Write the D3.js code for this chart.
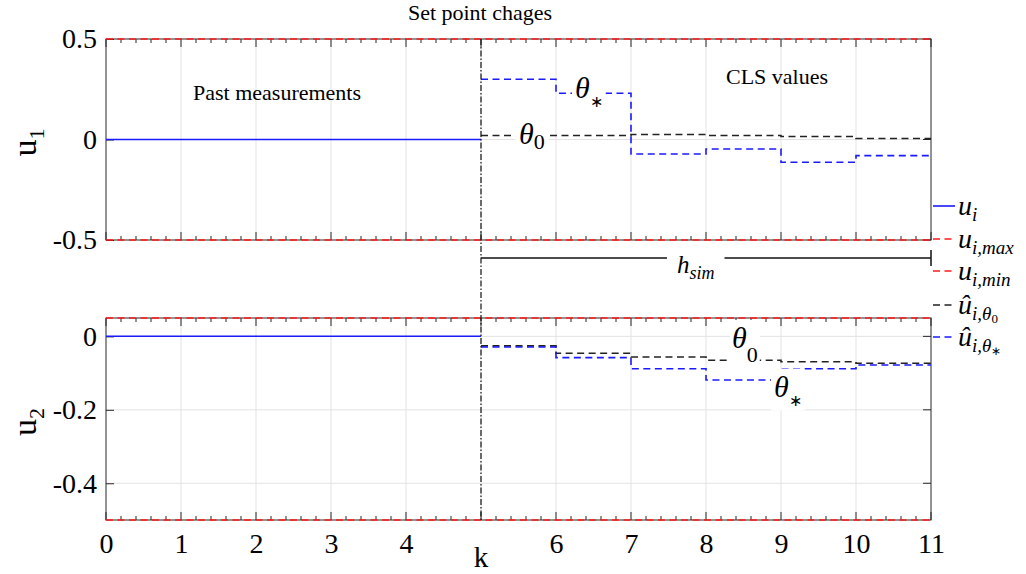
<!DOCTYPE html>
<html>
<head>
<meta charset="utf-8">
<script src="https://cdn.jsdelivr.net/npm/d3@7"></script>
<style>
  body { margin: 0; background: #fff; }
  svg { display: block; }
  text { font-family: "Liberation Serif", "Times New Roman", serif; fill: #000; }
</style>
</head>
<body>
<div id="chart"></div>
<script>
// time steps and tick labels (k = 5 is the current step)
const kTicks = [0, 1, 2, 3, 4, 5, 6, 7, 8, 9, 10, 11]
const kTickLabels = ['0', '1', '2', '3', '4', '', '6', '7', '8', '9', '10', '11']
const kPast = [0, 1, 2, 3, 4, 5]
const kHorizon = [5, 6, 7, 8, 9, 10, 11]

// past measurements
const u1Past = [0, 0, 0, 0, 0, 0]
const u2Past = [0, 0, 0, 0, 0, 0]

// CLS values over the horizon (one value per step)
const u1Theta0 = [0.02, 0.02, 0.025, 0.02, 0.015, 0.005]
const u1ThetaStar = [0.3, 0.23, -0.072, -0.047, -0.113, -0.08]
const u2Theta0 = [-0.026, -0.046, -0.056, -0.065, -0.069, -0.073]
const u2ThetaStar = [-0.029, -0.058, -0.088, -0.119, -0.088, -0.078]

// limits and y ticks
const u1Limits = [-0.5, 0.5]
const u2Limits = [-0.5, 0.05]
const u1Ticks = [-0.5, 0, 0.5]
const u1TickLabels = ['-0.5', '0', '0.5']
const u2Ticks = [-0.4, -0.2, 0]
const u2TickLabels = ['-0.4', '-0.2', '0']

const W = 1026, H = 574
const BLUE = '#1a1aff', RED = '#ff1a1a', DARK = '#262626', GRID = '#e3e3e3'
const DASH = '7,4.5'

const svg = d3.select('#chart').append('svg')
  .attr('width', W).attr('height', H)
svg.append('rect').attr('width', W).attr('height', H).attr('fill', '#fff')

const x = d3.scaleLinear().domain([0, 11]).range([106, 931])

// draws text made of pieces (for sub/superscripts)
function mathText(g, px, py, parts, anchor) {
  const t = g.append('text').attr('x', px).attr('y', py)
    .attr('text-anchor', anchor || 'start')
  parts.forEach(p => {
    t.append('tspan')
      .attr('dy', p.dy || 0)
      .style('font-size', p.size + 'px')
      .style('font-style', p.italic ? 'italic' : 'normal')
      .text(p.t)
  })
  return t
}

function withBackground(g, t, pad) {
  const b = t.node().getBBox()
  g.insert('rect', () => t.node())
    .attr('x', b.x - pad).attr('y', b.y - pad / 2)
    .attr('width', b.width + 2 * pad).attr('height', b.height + pad)
    .attr('fill', '#fff')
}

function stairs(vals) {
  return kHorizon.map((k, i) => [k, vals[Math.min(i, vals.length - 1)]])
}

function drawPanel(cfg) {
  const y = d3.scaleLinear().domain(cfg.limits).range([cfg.bottom, cfg.top])
  const g = svg.append('g')
  const x0 = x.range()[0], x1 = x.range()[1]

  // grid
  g.append('g').selectAll('line').data(kTicks.slice(1, -1)).join('line')
    .attr('x1', d => x(d)).attr('x2', d => x(d))
    .attr('y1', cfg.top).attr('y2', cfg.bottom)
    .attr('stroke', GRID).attr('stroke-width', 1)
  g.append('g').selectAll('line').data(cfg.ticks.filter(d => d > cfg.limits[0] && d < cfg.limits[1])).join('line')
    .attr('x1', x0).attr('x2', x1)
    .attr('y1', d => y(d)).attr('y2', d => y(d))
    .attr('stroke', GRID).attr('stroke-width', 1)

  // x ticks (major + minor) on top and bottom edges
  const minor = d3.range(0, 55).map(i => i / 5).filter(d => Math.abs(d - Math.round(d)) > 1e-6)
  ;[cfg.top, cfg.bottom].forEach((edge, j) => {
    const dir = j === 0 ? 1 : -1
    g.append('g').selectAll('line').data(kTicks).join('line')
      .attr('x1', d => x(d)).attr('x2', d => x(d))
      .attr('y1', edge).attr('y2', edge + dir * 8)
      .attr('stroke', DARK).attr('stroke-width', 1)
    g.append('g').selectAll('line').data(minor).join('line')
      .attr('x1', d => x(d)).attr('x2', d => x(d))
      .attr('y1', edge).attr('y2', edge + dir * 4)
      .attr('stroke', DARK).attr('stroke-width', 1)
  })

  // y axis (left) with inward ticks, plus right ticks
  const yAxis = g.append('g').attr('transform', `translate(${x0},0)`)
    .call(d3.axisLeft(y).tickValues(cfg.ticks)
      .tickFormat((d, i) => cfg.tickLabels[i]).tickSize(-8).tickPadding(9))
  yAxis.select('.domain').remove()
  yAxis.selectAll('line').attr('stroke', DARK)
  yAxis.selectAll('text').style('font-size', '28px').attr('fill', DARK)
    .style('font-family', '"Liberation Serif", serif')
  g.append('g').selectAll('line').data(cfg.ticks).join('line')
    .attr('x1', x1).attr('x2', x1 - 8)
    .attr('y1', d => y(d)).attr('y2', d => y(d))
    .attr('stroke', DARK)

  // box
  g.append('rect').attr('x', x0).attr('y', cfg.top)
    .attr('width', x1 - x0).attr('height', cfg.bottom - cfg.top)
    .attr('fill', 'none').attr('stroke', DARK).attr('stroke-width', 1)

  // limits
  const lim = d3.line().x(d => x(d[0])).y(d => y(d[1]))
  cfg.limits.forEach(v => {
    g.append('path').attr('d', lim([[0, v], [11, v]]))
      .attr('fill', 'none').attr('stroke', RED).attr('stroke-width', 1.6)
      .attr('stroke-dasharray', DASH)
  })

  // past measurements
  g.append('path')
    .attr('d', lim(kPast.map((k, i) => [k, cfg.past[i]])))
    .attr('fill', 'none').attr('stroke', BLUE).attr('stroke-width', 1.5)

  // CLS stairs
  const step = d3.line().x(d => x(d[0])).y(d => y(d[1])).curve(d3.curveStepAfter)
  g.append('path').attr('d', step(stairs(cfg.theta0)))
    .attr('fill', 'none').attr('stroke', '#222').attr('stroke-width', 1.6)
    .attr('stroke-dasharray', DASH)
  g.append('path').attr('d', step(stairs(cfg.thetaStar)))
    .attr('fill', 'none').attr('stroke', BLUE).attr('stroke-width', 1.6)
    .attr('stroke-dasharray', DASH)

  // y label
  const lab = g.append('g')
    .attr('transform', `translate(36,${(cfg.top + cfg.bottom) / 2 + 3}) rotate(-90)`)
  mathText(lab, 0, 0, [
    { t: 'u', size: 34 },
    { t: cfg.sub, size: 22, dy: 8 }
  ], 'middle')

  return { g, y }
}

const panelU1 = drawPanel({
  top: 39, bottom: 240, limits: u1Limits, ticks: u1Ticks, tickLabels: u1TickLabels,
  past: u1Past, theta0: u1Theta0, thetaStar: u1ThetaStar, sub: '1'
})
const panelU2 = drawPanel({
  top: 318, bottom: 520, limits: u2Limits, ticks: u2Ticks, tickLabels: u2TickLabels,
  past: u2Past, theta0: u2Theta0, thetaStar: u2ThetaStar, sub: '2'
})

// x tick labels under bottom panel
const xAxis = svg.append('g').attr('transform', 'translate(0,520)')
  .call(d3.axisBottom(x).tickValues(kTicks)
    .tickFormat((d, i) => kTickLabels[i]).tickSize(0).tickPadding(13))
xAxis.select('.domain').remove()
xAxis.selectAll('text').style('font-size', '28px').attr('fill', DARK)
  .style('font-family', '"Liberation Serif", serif')
svg.append('text').attr('x', x(5)).attr('y', 567).attr('text-anchor', 'middle')
  .style('font-size', '29px').text('k')

// set point change marker
svg.append('line').attr('x1', x(5)).attr('x2', x(5)).attr('y1', 39).attr('y2', 520)
  .attr('stroke', '#111').attr('stroke-width', 1.2).attr('stroke-dasharray', '6,2,1.5,2')
svg.append('text').attr('x', 480).attr('y', 20).attr('text-anchor', 'middle')
  .style('font-size', '22px').text('Set point chages')

// region annotations
svg.append('text').attr('x', 193).attr('y', 100).style('font-size', '22px').text('Past measurements')
svg.append('text').attr('x', 726).attr('y', 84).style('font-size', '22px').text('CLS values')

// theta labels
const ann = svg.append('g')
let t = mathText(ann, 519, 144, [{ t: 'θ', size: 30, italic: true }, { t: '0', size: 22, dy: 5 }])
withBackground(ann, t, 4)
t = mathText(ann, 575, 98, [{ t: 'θ', size: 30, italic: true }, { t: '∗', size: 16, dy: 9 }])
withBackground(ann, t, 3)
t = mathText(ann, 732, 348, [{ t: 'θ', size: 30, italic: true }, { t: '0', size: 22, dy: 14 }])
withBackground(ann, t, 2)
t = mathText(ann, 774, 397, [{ t: 'θ', size: 30, italic: true }, { t: '∗', size: 16, dy: 9 }])
withBackground(ann, t, 3)

// horizon bracket
const hy = 258
svg.append('line').attr('x1', x(5)).attr('x2', x(11)).attr('y1', hy).attr('y2', hy)
  .attr('stroke', '#111').attr('stroke-width', 1.5)
svg.append('line').attr('x1', x(11)).attr('x2', x(11)).attr('y1', hy - 8).attr('y2', hy + 8)
  .attr('stroke', '#111').attr('stroke-width', 1.5)
t = mathText(svg, 677, 273, [{ t: 'h', size: 25, italic: true }, { t: 'sim', size: 18, italic: true, dy: 6 }])
withBackground(svg, t, 10)

// legend
const legendItems = [
  { y: 206, color: BLUE, dash: null, parts: [{ t: 'u', size: 28, italic: true }, { t: 'i', size: 19, italic: true, dy: 6 }] },
  { y: 239, color: RED, dash: DASH, parts: [{ t: 'u', size: 28, italic: true }, { t: 'i,max', size: 19, italic: true, dy: 6 }] },
  { y: 271, color: RED, dash: DASH, parts: [{ t: 'u', size: 28, italic: true }, { t: 'i,min', size: 19, italic: true, dy: 6 }] },
  { y: 305, color: '#222', dash: DASH, parts: [{ t: 'û', size: 28, italic: true }, { t: 'i,θ', size: 19, italic: true, dy: 6 }, { t: '0', size: 13, dy: 3 }] },
  { y: 337, color: BLUE, dash: DASH, parts: [{ t: 'û', size: 28, italic: true }, { t: 'i,θ', size: 19, italic: true, dy: 6 }, { t: '∗', size: 12, dy: 3 }] }
]
const legend = svg.append('g')
legendItems.forEach(d => {
  legend.append('line').attr('x1', 933).attr('x2', 955).attr('y1', d.y).attr('y2', d.y)
    .attr('stroke', d.color).attr('stroke-width', 1.6)
    .attr('stroke-dasharray', d.dash)
  mathText(legend, 958, d.y + 9, d.parts)
})
</script>
</body>
</html>
